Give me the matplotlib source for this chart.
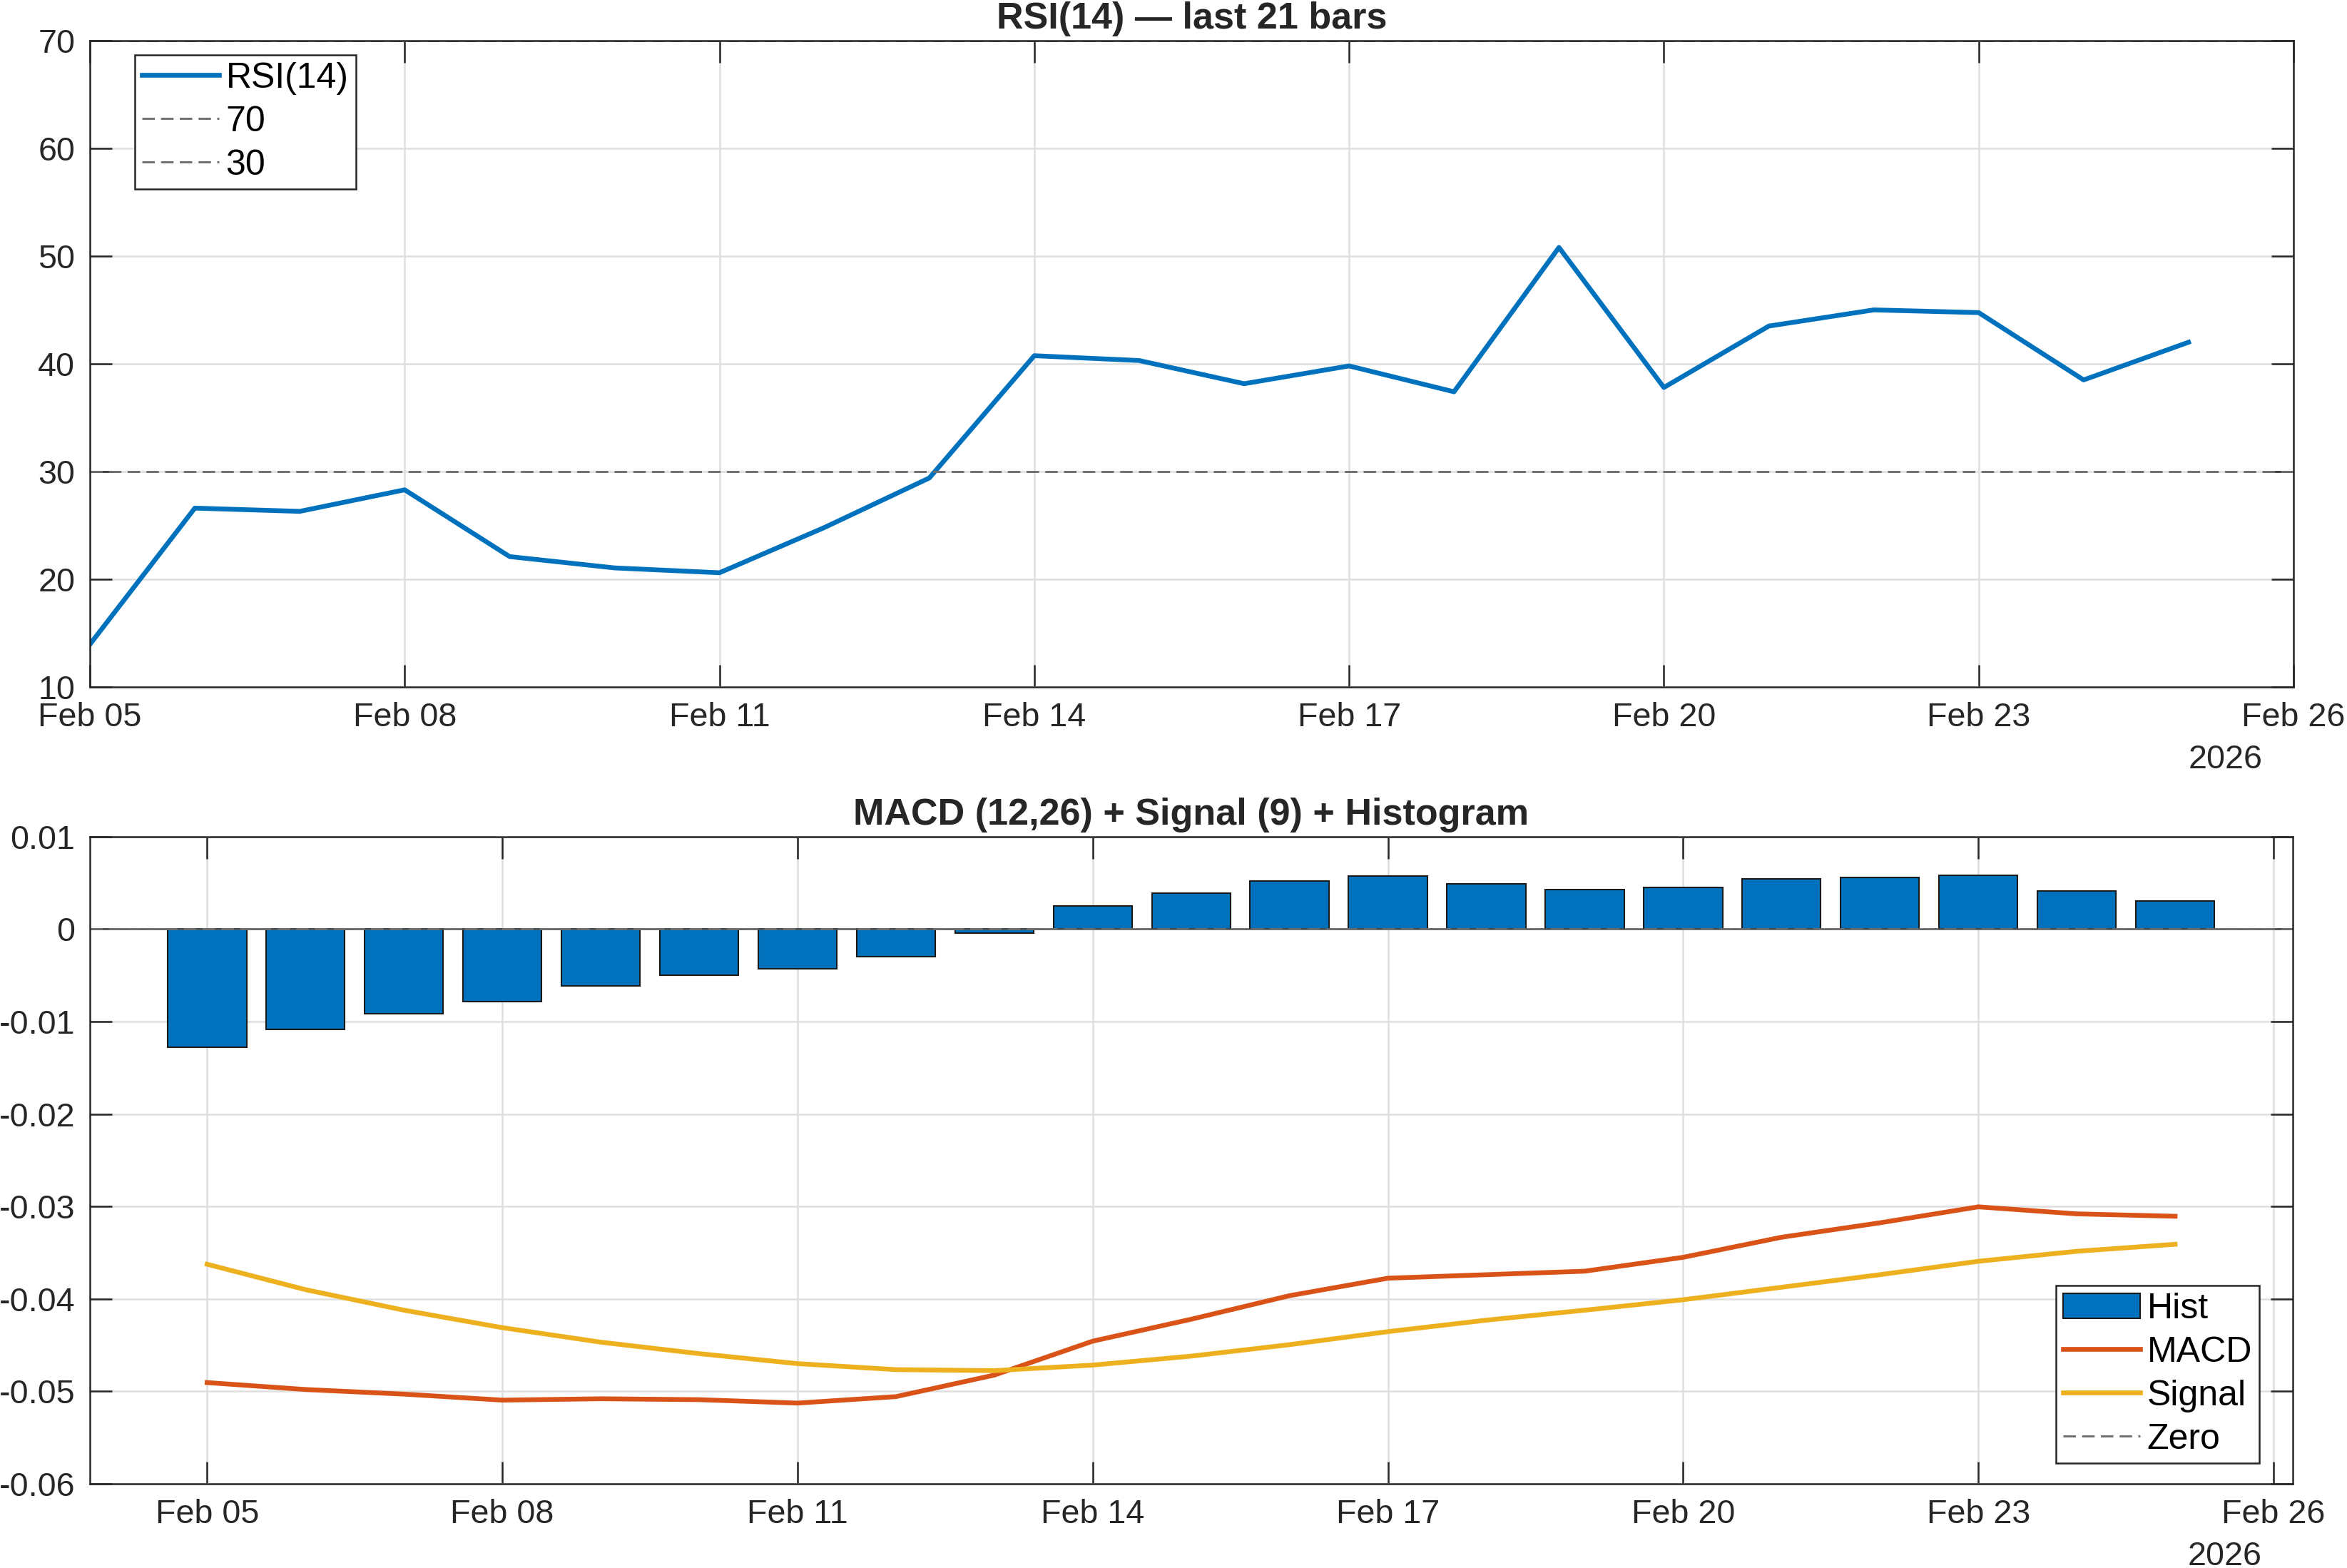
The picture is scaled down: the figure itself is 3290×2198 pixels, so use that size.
import matplotlib
matplotlib.use('Agg')
import matplotlib.pyplot as plt
import matplotlib.dates as mdates
import pandas as pd

plt.rcParams['font.family'] = ['Liberation Sans', 'DejaVu Sans']
plt.rcParams['axes.unicode_minus'] = False

# data
dates = pd.to_datetime([
    '2026-02-05', '2026-02-06', '2026-02-07', '2026-02-08', '2026-02-09',
    '2026-02-10', '2026-02-11', '2026-02-12', '2026-02-13', '2026-02-14',
    '2026-02-15', '2026-02-16', '2026-02-17', '2026-02-18', '2026-02-19',
    '2026-02-20', '2026-02-21', '2026-02-22', '2026-02-23', '2026-02-24',
    '2026-02-25'])

rsi = [13.95, 26.6, 26.3, 28.3, 22.1, 21.05, 20.6, 24.8, 29.4, 40.75,
       40.3, 38.15, 39.8, 37.4, 50.8, 37.8, 43.5, 45.0, 44.75, 38.5, 42.0]

hist = [-0.0128, -0.01086, -0.00913, -0.00783, -0.00616, -0.00497, -0.00427,
        -0.00297, -0.00043, 0.00254, 0.00389, 0.00524, 0.00573, 0.00486,
        0.00427, 0.00454, 0.0054, 0.00562, 0.00583, 0.0041, 0.00303]

macd = [-0.04905, -0.0498, -0.0503, -0.05095, -0.0508, -0.0509, -0.05127,
        -0.05057, -0.04824, -0.04457, -0.0422, -0.03965, -0.03776, -0.03738,
        -0.037, -0.0355, -0.03333, -0.03177, -0.03004, -0.0308, -0.03106]

signal = [-0.03625, -0.039, -0.04122, -0.04311, -0.04468, -0.04592, -0.047,
          -0.04765, -0.04776, -0.04716, -0.04619, -0.04495, -0.04354, -0.0423,
          -0.04122, -0.04009, -0.03874, -0.03738, -0.03593, -0.03485, -0.03409]

rsi_ticks = [10, 20, 30, 40, 50, 60, 70]
macd_ticks = [-0.06, -0.05, -0.04, -0.03, -0.02, -0.01, 0, 0.01]
macd_tick_labels = ['-0.06', '-0.05', '-0.04', '-0.03', '-0.02', '-0.01', '0', '0.01']
date_ticks = pd.to_datetime(['2026-02-05', '2026-02-08', '2026-02-11', '2026-02-14',
                             '2026-02-17', '2026-02-20', '2026-02-23', '2026-02-26'])

BLUE = '#0072BD'
ORANGE = '#D95319'
YELLOW = '#EDB120'
GRAY = '#6e6e6e'
AX = '#262626'
GRID = '#dfdfdf'

LEG = dict(borderaxespad=0, fontsize=12, fancybox=False, framealpha=1, edgecolor=AX,
           handlelength=2.15, handletextpad=0.2, labelspacing=0.3, borderpad=0.2)


def style_axes(ax):
    for s in ax.spines.values():
        s.set_color(AX)
        s.set_linewidth(0.6)
    ax.tick_params(direction='in', length=7.5, width=0.6, color=AX, labelcolor=AX,
                   labelsize=11.2, top=True, right=True, pad=5)
    ax.grid(True, color=GRID, linewidth=0.6)
    ax.set_axisbelow(True)
    ax.set_xticks(date_ticks)
    ax.xaxis.set_major_formatter(mdates.DateFormatter('%b %d'))
    ax.text(0.986, -0.088, '2026', transform=ax.transAxes, ha='right', va='top',
            fontsize=11.2, color=AX)


fig = plt.figure(figsize=(3290 / 300, 2198 / 300), dpi=300)
ax1 = fig.add_axes([0.0383, 0.5619, 0.9389, 0.4122])
ax2 = fig.add_axes([0.0383, 0.0537, 0.9386, 0.4127])

# RSI panel
ax1.plot(dates, rsi, color=BLUE, lw=1.6, label='RSI(14)')
ax1.axhline(70, color=GRAY, lw=0.7, dashes=(6, 3), label='70')
ax1.axhline(30, color=GRAY, lw=0.7, dashes=(6, 3), label='30')
ax1.set_ylim(10, 70)
ax1.set_yticks(rsi_ticks)
ax1.set_xlim(date_ticks[0], date_ticks[-1])
style_axes(ax1)
ax1.set_title('RSI(14) \u2014 last 21 bars', fontsize=12.5, fontweight='bold',
              color=AX, pad=4)
leg1 = ax1.legend(loc='upper left', bbox_to_anchor=(0.0204, 0.978), **LEG)
leg1.get_frame().set_linewidth(0.6)

# MACD panel
bars = ax2.bar(dates, hist, width=0.8, color=BLUE, edgecolor='#1a1a1a', linewidth=0.5,
               label='Hist', zorder=2)
l_macd, = ax2.plot(dates, macd, color=ORANGE, lw=1.6, label='MACD', zorder=3)
l_sig, = ax2.plot(dates, signal, color=YELLOW, lw=1.6, label='Signal', zorder=3)
l_zero = ax2.axhline(0, color=GRAY, lw=0.7, dashes=(6, 3), label='Zero', zorder=2.5)
ax2.axhline(0, color='#555555', lw=0.6, zorder=2.4)
ax2.set_ylim(-0.06, 0.01)
ax2.set_yticks(macd_ticks, macd_tick_labels)
ax2.set_xlim(date_ticks[0] - pd.Timedelta(hours=28.6), date_ticks[-1] + pd.Timedelta(hours=4.7))
style_axes(ax2)
ax2.set_title('MACD (12,26) + Signal (9) + Histogram', fontsize=12.5,
              fontweight='bold', color=AX, pad=4)
leg2 = ax2.legend([bars, l_macd, l_sig, l_zero], ['Hist', 'MACD', 'Signal', 'Zero'],
                  loc='lower right', bbox_to_anchor=(0.9848, 0.032), **LEG)
leg2.get_frame().set_linewidth(0.6)

fig.savefig('out.png', dpi=300)
